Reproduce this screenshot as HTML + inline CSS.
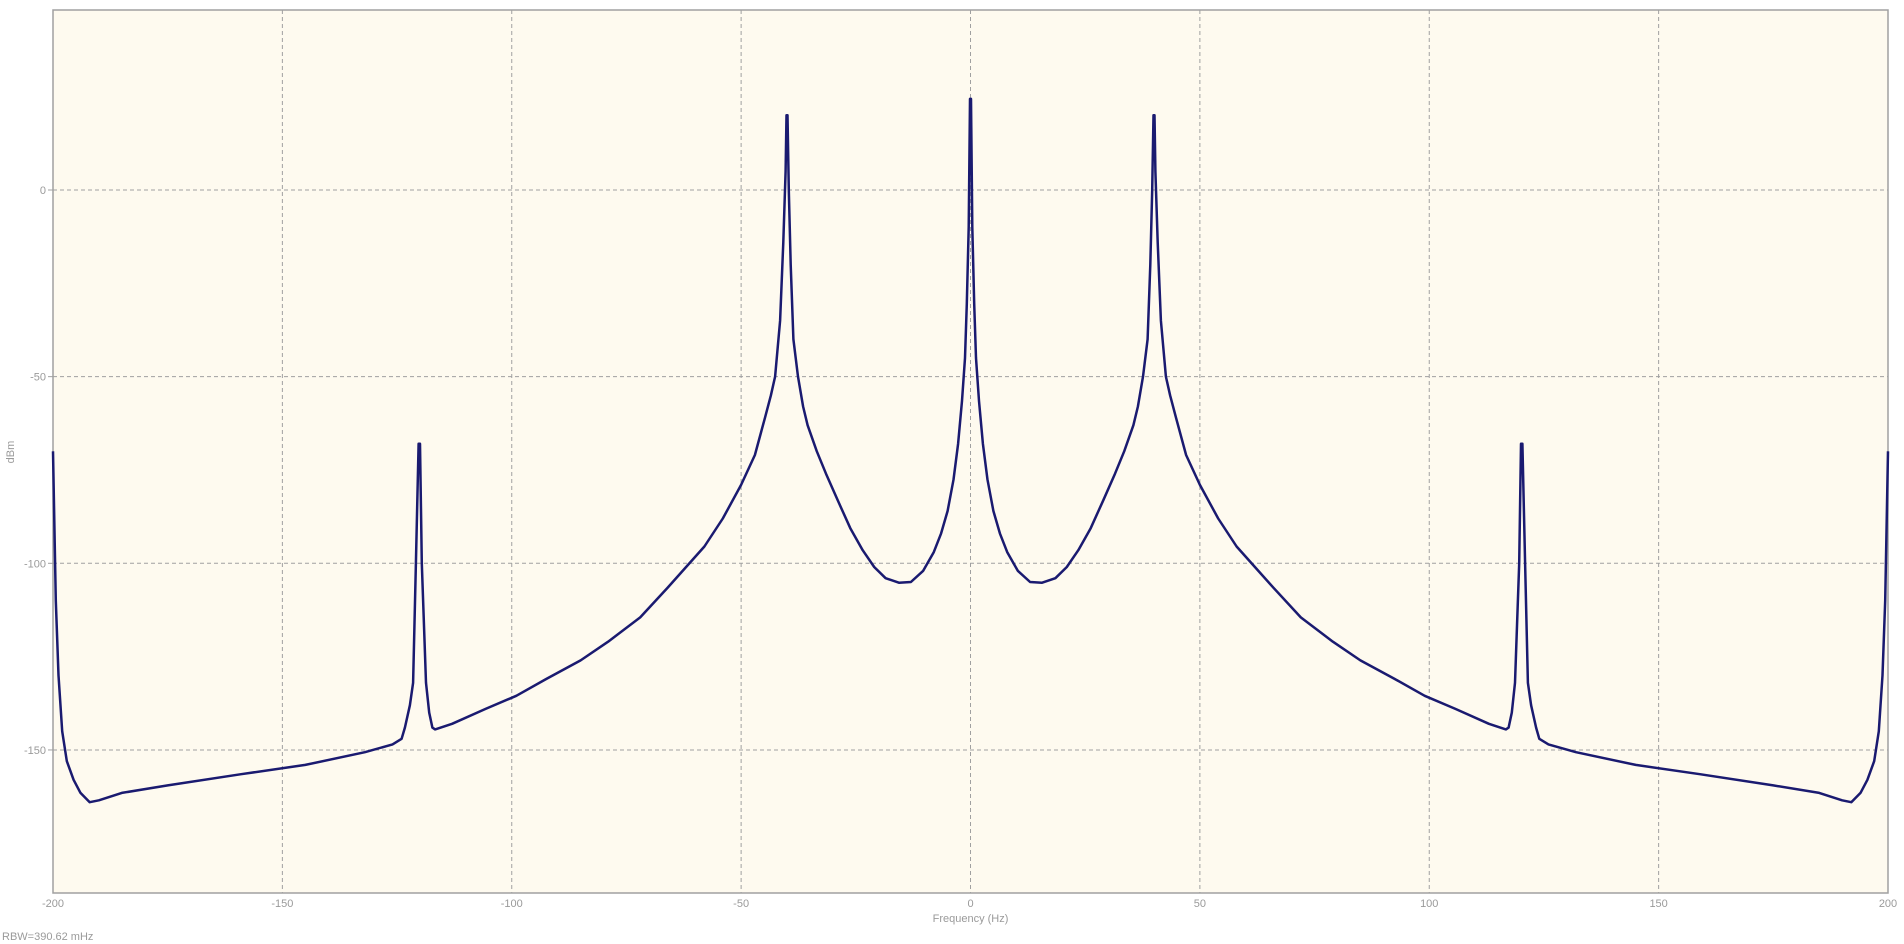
<!DOCTYPE html>
<html><head><meta charset="utf-8"><style>
body{margin:0;background:#fff;width:1904px;height:944px;overflow:hidden;font-family:"Liberation Sans",sans-serif}
svg{display:block}
text{fill:#9a9a9a;font-size:11px}
</style></head><body>
<svg id="chart" width="1904" height="944" xmlns="http://www.w3.org/2000/svg"></svg>
<script>
const xTicks=[-200,-150,-100,-50,0,50,100,150,200];
const yTicks=[0,-50,-100,-150];
const freqs=[-200,-199.7,-199.4,-198.8,-198,-197,-195.5,-194,-192,-190,-185,-175,-159,-145,-132,-126,-124,-123.3,-122.2,-121.5,-120.9,-120.3,-120,-119.6,-118.7,-118,-117.3,-116.7,-113,-105.7,-99,-92.5,-85,-79,-72,-66,-62,-58,-54,-50,-47,-44.8,-43.5,-42.6,-41.5,-40.8,-40.3,-40.1,-39.9,-39.6,-39.2,-38.6,-37.6,-36.5,-35.5,-33.5,-31.5,-29,-26.2,-23.5,-21,-18.5,-15.6,-13,-10.3,-8,-6.4,-5,-3.7,-2.7,-1.85,-1.2,-0.8,-0.4,-0.1,
0.1,0.4,0.8,1.2,1.85,2.7,3.7,5,6.4,8,10.3,13,15.6,18.5,21,23.5,26.2,29,31.5,33.5,35.5,36.5,37.6,38.6,39.2,39.6,39.9,40.1,40.3,40.8,41.5,42.6,43.5,44.8,47,50,54,58,62,66,72,79,85,92.5,99,105.7,113,116.7,117.3,118,118.7,119.6,120,120.3,120.9,121.5,122.2,123.3,124,126,132,145,159,175,185,190,192,194,195.5,197,198,198.8,199.4,199.7,200];
const dbs=[-70,-90,-110,-130,-145,-153,-158,-161.5,-164,-163.5,-161.5,-159.5,-156.5,-154,-150.6,-148.5,-147,-144,-138,-132,-100,-68,-68,-100,-132,-140,-144,-144.5,-143,-139,-135.5,-131,-126,-121,-114.5,-106.5,-101,-95.5,-88,-79,-71,-61,-55,-50,-35,-14,5,20,20,0,-20,-40,-50,-58,-63,-70,-76,-83,-90.6,-96.5,-101,-104,-105.2,-105,-102,-97,-92,-86,-77.6,-68,-56.5,-45,-30.5,-10,24.4,
24.4,-10,-30.5,-45,-56.5,-68,-77.6,-86,-92,-97,-102,-105,-105.2,-104,-101,-96.5,-90.6,-83,-76,-70,-63,-58,-50,-40,-20,0,20,20,5,-14,-35,-50,-55,-61,-71,-79,-88,-95.5,-101,-106.5,-114.5,-121,-126,-131,-135.5,-139,-143,-144.5,-144,-140,-132,-100,-68,-68,-100,-132,-138,-144,-147,-148.5,-150.6,-154,-156.5,-159.5,-161.5,-163.5,-164,-161.5,-158,-153,-145,-130,-110,-90,-70];
const L=53,R=1888,T=10,B=893;
const xs=f=>L+(f+200)*(R-L)/400;
const ys=d=>190-d*3.733;
const svg=document.getElementById('chart');
const NS='http://www.w3.org/2000/svg';
function mk(t,a){const e=document.createElementNS(NS,t);for(const k in a)e.setAttribute(k,a[k]);svg.appendChild(e);return e;}
const bg=mk('rect',{x:L,y:T,width:R-L,height:B-T,fill:'#fefaef',stroke:'#a0a0a0','stroke-width':1.5});


xTicks.forEach(v=>{
  if(v>-200&&v<200){const g=mk('line',{x1:xs(v),x2:xs(v),y1:T,y2:B,stroke:'#a0a0a0','stroke-dasharray':'4,3'});
  
  }
  const t=mk('text',{x:xs(v),y:B+14,'text-anchor':'middle'});t.textContent=v;
  
  
});
yTicks.forEach(v=>{
  const g=mk('line',{x1:L,x2:R,y1:ys(v),y2:ys(v),stroke:'#a0a0a0','stroke-dasharray':'4,3'});
  
  
  mk('line',{x1:L-5,x2:L,y1:ys(v),y2:ys(v),stroke:'#a0a0a0'});
  const t=mk('text',{x:L-7,y:ys(v)+4,'text-anchor':'end'});t.textContent=v;
  
  
});
const pts=freqs.map((f,i)=>xs(f).toFixed(1)+','+ys(dbs[i]).toFixed(1)).join(' ');
const line=mk('polyline',{points:pts,fill:'none',stroke:'#1a1a70','stroke-width':2.5,'stroke-linejoin':'round'});


const xt=mk('text',{x:(L+R)/2,y:922,'text-anchor':'middle'});xt.textContent='Frequency (Hz)';


const yt=mk('text',{x:14,y:452,'text-anchor':'middle',transform:'rotate(-90 14 452)'});yt.textContent='dBm';


const rb=mk('text',{x:2,y:940,'font-size':'10'});rb.textContent='RBW=390.62 mHz';


</script>
</body></html>
